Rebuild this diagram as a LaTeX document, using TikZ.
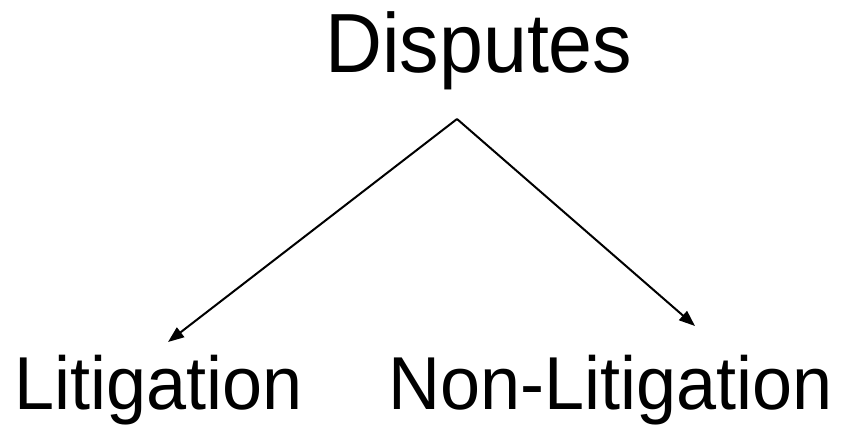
\documentclass[tikz,border=0pt]{standalone}
\usepackage{fontspec}
\usepackage{graphicx}
\setmainfont{Liberation Sans}
\usetikzlibrary{arrows.meta}
\begin{document}
\begin{tikzpicture}[x=1pt,y=-1pt,
  lbl/.style={inner sep=0pt, anchor=base west, font=\fontsize{75}{80}\selectfont},
  conn/.style={line width=2pt, -{Triangle[length=16pt,width=12pt]}}]
\useasboundingbox (0,0) rectangle (843,426);
\node[lbl, font=\fontsize{84}{90}\selectfont] (disp) at (325,72) {\scalebox{0.94}[1]{Disputes}};
\node[lbl] (lit) at (14,409) {\scalebox{0.96}[1]{Litigation}};
\node[lbl] (non) at (388,409) {\scalebox{0.96}[1]{Non-Litigation}};
\coordinate (apex) at (457,119);
\coordinate (ltip) at (168,342);
\coordinate (rtip) at (695,326);
\draw[conn] (apex) -- (ltip);
\draw[conn] (apex) -- (rtip);
\end{tikzpicture}
\end{document}
